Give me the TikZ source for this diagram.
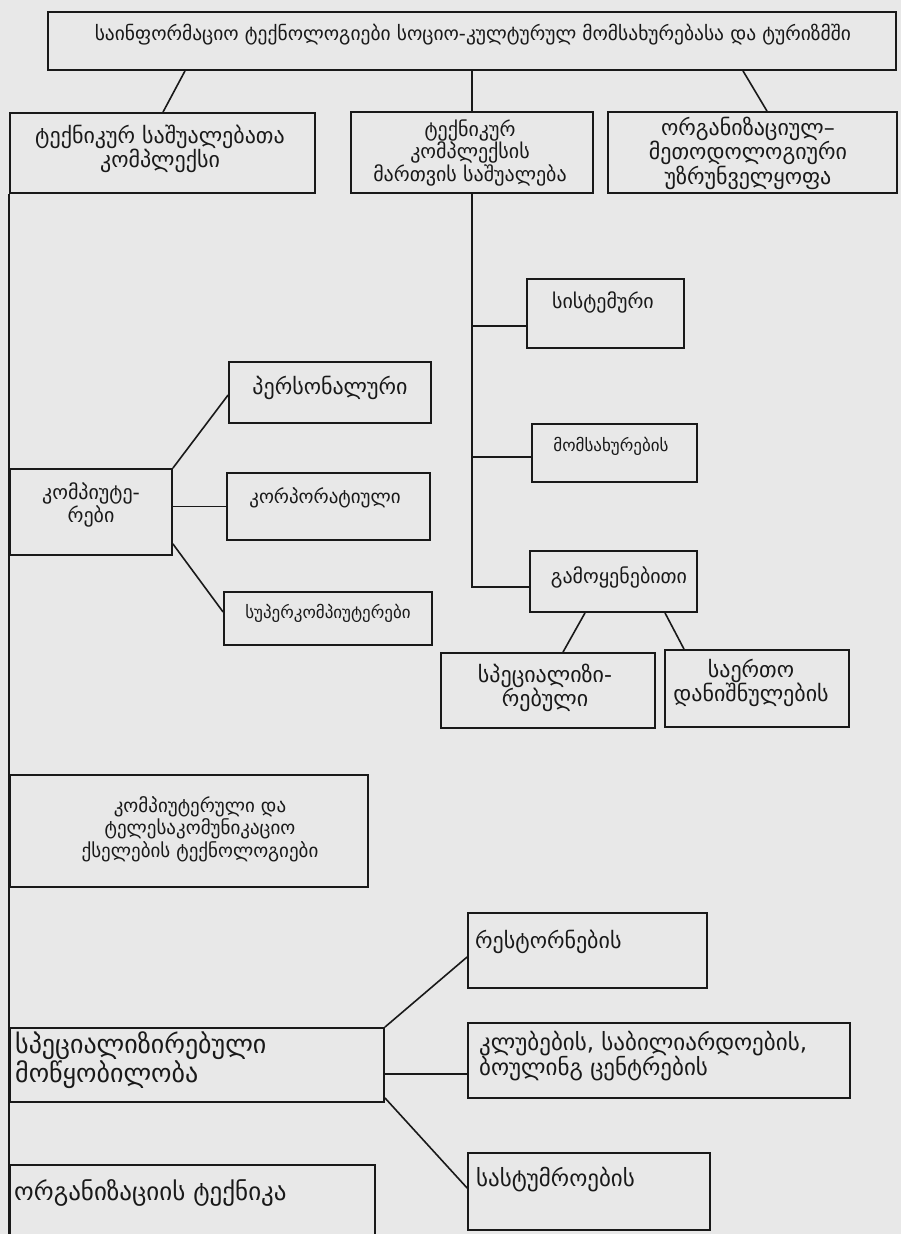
\documentclass[tikz,border=0pt]{standalone}
\usepackage{fontspec}
\newfontfamily\geo{DejaVu Sans}
\definecolor{bgc}{RGB}{232,232,232}
\definecolor{ink}{RGB}{25,25,25}
\newcommand\fs[2]{\geo\fontsize{#1}{#2}\selectfont}
\begin{document}
\begin{tikzpicture}[x=1pt,y=-1pt,
  box/.style={draw=ink, line width=1.8pt, inner sep=0pt, rectangle},
  txt/.style={align=center, inner sep=0pt, text=ink},
  ltxt/.style={txt, align=left, anchor=west},
  conn/.style={draw=ink, line width=1.6pt}]
\useasboundingbox (0,0) rectangle (901,1234);
\fill[bgc] (0,0) rectangle (901,1234);
\clip (0,0) rectangle (901,1234);
% boxes
\node[box, minimum width=848pt, minimum height=58pt] (top) at (472,41) {};
\node[box, minimum width=305pt, minimum height=80pt] (A) at (162.5,153) {};
\node[box, minimum width=242pt, minimum height=81pt] (B) at (472,152.5) {};
\node[box, minimum width=289pt, minimum height=81pt] (C) at (752.5,152.5) {};
\node[box, minimum width=157pt, minimum height=69pt] (sys) at (605.5,313.5) {};
\node[box, minimum width=165pt, minimum height=58pt] (serv) at (614.5,453) {};
\node[box, minimum width=202pt, minimum height=61pt] (pers) at (330,392.5) {};
\node[box, minimum width=162pt, minimum height=86pt] (comp) at (91,512) {};
\node[box, minimum width=203pt, minimum height=67pt] (corp) at (328.5,506.5) {};
\node[box, minimum width=208pt, minimum height=53pt] (super) at (328,618.5) {};
\node[box, minimum width=167pt, minimum height=61pt] (gamo) at (613.5,581.5) {};
\node[box, minimum width=214pt, minimum height=75pt] (spz) at (548,690.5) {};
\node[box, minimum width=184pt, minimum height=77pt] (common) at (757,688.5) {};
\node[box, minimum width=358pt, minimum height=112pt] (net) at (189,831) {};
\node[box, minimum width=239pt, minimum height=75pt] (rest) at (587.5,950.5) {};
\node[box, minimum width=374pt, minimum height=74pt] (spec) at (197,1065) {};
\node[box, minimum width=382pt, minimum height=75pt] (clubs) at (659,1060.5) {};
\node[box, minimum width=242pt, minimum height=77pt] (hotel) at (589,1191.5) {};
\node[box, minimum width=365pt, minimum height=95pt] (orgt) at (192.5,1212.5) {};
% texts
\node[txt, font=\fs{19.5}{22}] (ttop) at (473,35) {საინფორმაციო ტექნოლოგიები სოციო-კულტურულ მომსახურებასა და ტურიზმში};
\node[txt, font=\fs{22}{23}] (tA) at (160,149) {ტექნიკურ საშუალებათა\\კომპლექსი};
\node[txt, font=\fs{20}{21}] (tB) at (470,153) {ტექნიკურ\\კომპლექსის\\მართვის საშუალება};
\node[txt, font=\fs{22}{21}] (tC) at (748,153) {ორგანიზაციულ–\\მეთოდოლოგიური\\უზრუნველყოფა};
\node[txt, font=\fs{20}{22}] (tsys) at (603,302) {სისტემური};
\node[txt, font=\fs{17}{22}] (tserv) at (611,446) {მომსახურების};
\node[txt, font=\fs{22}{22}] (tpers) at (330,388) {პერსონალური};
\node[txt, font=\fs{19}{22}] (tcorp) at (325,498) {კორპორატიული};
\node[txt, font=\fs{17}{22}] (tsuper) at (328,613) {სუპერკომპიუტერები};
\node[txt, font=\fs{20}{18}] (tcomp) at (91,505) {კომპიუტე-\\რები};
\node[txt, font=\fs{20}{22}] (tgamo) at (619,577) {გამოყენებითი};
\node[txt, font=\fs{22}{21}] (tspz) at (545,688) {სპეციალიზი-\\რებული};
\node[txt, font=\fs{22}{20}] (tcommon) at (751,683) {საერთო\\დანიშნულების};
\node[txt, font=\fs{19}{22.5}] (tnet) at (200,829) {კომპიუტერული და\\ტელესაკომუნიკაციო\\ქსელების ტექნოლოგიები};
\node[ltxt, font=\fs{22}{22}] (trest) at (475,942) {რესტორნების};
\node[ltxt, font=\fs{26}{24}] (tspec) at (15,1060) {სპეციალიზირებული\\მოწყობილობა};
\node[ltxt, font=\fs{23}{25}] (tclubs) at (479,1056) {კლუბების, საბილიარდოების,\\ბოულინგ ცენტრების};
\node[ltxt, font=\fs{23}{22}] (thotel) at (476,1180) {სასტუმროების};
\node[ltxt, font=\fs{25}{22}] (torgt) at (14,1193) {ორგანიზაციის ტექნიკა};
% connectors
\draw[conn] ([xshift=-287pt]top.south) -- ([xshift=0.5pt]A.north);
\draw[conn] (top.south) -- (B.north);
\draw[conn] ([xshift=271pt]top.south) -- ([xshift=14.5pt]C.north);
% left trunk
\draw[conn] (A.south west) -- (orgt.north west);
\draw[conn] (orgt.north west) -- ([yshift=-60pt]orgt.west);
% center trunk
\coordinate (gj) at ([yshift=-5.5pt]gamo.west);
\draw[conn] (B.south) |- (gj);
\coordinate (sj) at ([yshift=-12.5pt]sys.west);
\draw[conn] (sj -| B.south) -- (sj);
\coordinate (mj) at ([yshift=-4pt]serv.west);
\draw[conn] (mj -| B.south) -- (mj);
% computers
\draw[conn] (comp.north east) -- ([yshift=-2.5pt]pers.west);
\draw[conn] (corp.west -| comp.east) -- (corp.west);
\draw[conn] ([yshift=12pt]comp.south east) -- ([yshift=6.5pt]super.west);
% applied
\draw[conn] ([xshift=-28.5pt]gamo.south) -- ([xshift=15pt]spz.north);
\draw[conn] ([xshift=51.5pt]gamo.south) -- ([xshift=-73pt]common.north);
% specialised equipment
\draw[conn] (spec.north east) -- ([yshift=-6.5pt]rest.west);
\coordinate (cj) at ([yshift=-9pt]spec.east);
\draw[conn] (cj) -- (cj -| clubs.west);
\draw[conn] ([yshift=5pt]spec.south east) -- ([yshift=3.5pt]hotel.west);
\end{tikzpicture}
\end{document}
